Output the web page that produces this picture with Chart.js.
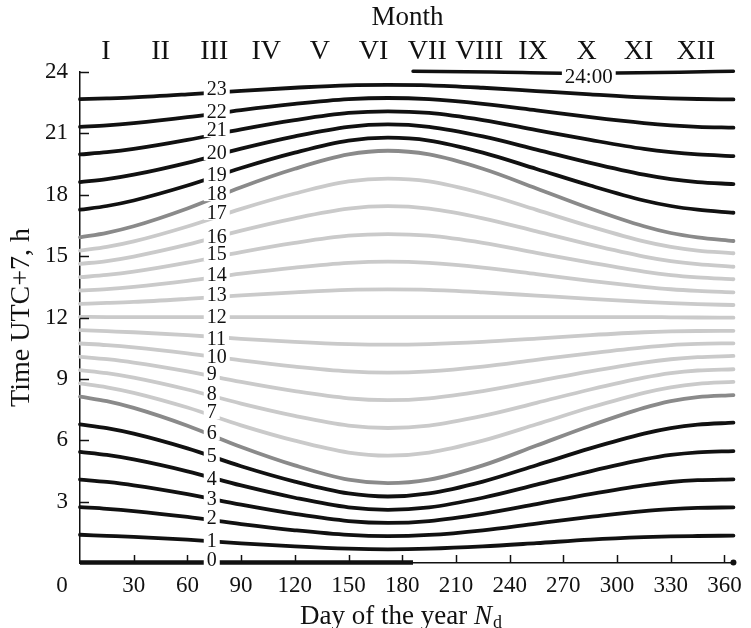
<!DOCTYPE html>
<html>
<head>
<meta charset="utf-8">
<script src="https://cdn.jsdelivr.net/npm/chart.js@4.4.1/dist/chart.umd.min.js"></script>
<style>
html,body{margin:0;padding:0;background:#fff;}
#wrap{width:751px;height:628px;}
</style>
</head>
<body>
<div id="wrap"><canvas id="c" width="751" height="628"></canvas></div>
<script>
// ---- data ----
const days = [0, 15, 30, 60, 90, 120, 150, 172, 195, 225, 255, 285, 315, 330, 345, 365];

const h1  = [1.38,1.33,1.28,1.14,0.96,0.81,0.70,0.67,0.70,0.81,0.97,1.14,1.26,1.30,1.32,1.34];
const h2  = [2.73,2.65,2.54,2.25,1.90,1.60,1.37,1.31,1.37,1.60,1.93,2.25,2.54,2.63,2.69,2.72];
const h3  = [4.08,3.96,3.80,3.37,2.85,2.40,2.05,1.96,2.05,2.40,2.88,3.37,3.80,3.96,4.05,4.09];
const h4  = [5.43,5.28,5.06,4.48,3.79,3.19,2.72,2.60,2.72,3.19,3.83,4.48,5.06,5.28,5.41,5.47];
const h5  = [6.78,6.59,6.32,5.60,4.73,3.98,3.40,3.25,3.40,3.98,4.78,5.60,6.32,6.59,6.76,6.86];
const h6  = [8.13,7.91,7.58,6.71,5.67,4.77,4.07,3.90,4.07,4.77,5.74,6.71,7.58,7.91,8.11,8.21];
const h7  = [8.78,8.59,8.32,7.60,6.73,5.98,5.40,5.25,5.40,5.98,6.78,7.60,8.32,8.59,8.76,8.85];
const h8  = [9.43,9.28,9.06,8.48,7.79,7.19,6.72,6.60,6.72,7.19,7.83,8.48,9.06,9.28,9.41,9.47];
const h9  = [10.08,9.96,9.80,9.37,8.85,8.40,8.05,7.96,8.05,8.40,8.88,9.37,9.80,9.96,10.06,10.12];
const h10 = [10.73,10.65,10.54,10.25,9.90,9.60,9.37,9.31,9.37,9.60,9.93,10.25,10.54,10.65,10.71,10.74];
const h11 = [11.38,11.33,11.28,11.14,10.96,10.81,10.70,10.67,10.70,10.81,10.97,11.14,11.28,11.32,11.34,11.35];
const h12 = [12.03,12.02,12.02,12.02,12.02,12.02,12.02,12.02,12.02,12.02,12.02,12.02,12.02,12.01,12.00,11.99];
const h13 = [12.67,12.71,12.76,12.91,13.08,13.23,13.35,13.37,13.35,13.23,13.07,12.91,12.76,12.70,12.65,12.61];
const h14 = [13.32,13.39,13.50,13.79,14.14,14.44,14.67,14.73,14.67,14.44,14.12,13.79,13.50,13.38,13.30,13.23];
const h15 = [13.97,14.08,14.24,14.68,15.20,15.65,16.00,16.08,16.00,15.65,15.16,14.68,14.24,14.07,13.96,13.87];
const h16 = [14.62,14.76,14.98,15.56,16.25,16.85,17.32,17.44,17.32,16.85,16.21,15.56,14.98,14.76,14.61,14.48];
const h17 = [15.27,15.45,15.72,16.45,17.31,18.06,18.65,18.79,18.65,18.06,17.26,16.45,15.72,15.45,15.27,15.14];
const h18 = [15.92,16.14,16.46,17.33,18.37,19.27,19.97,20.15,19.97,19.27,18.31,17.33,16.46,16.13,15.92,15.74];
const h19 = [17.27,17.45,17.72,18.45,19.31,20.06,20.65,20.79,20.65,20.06,19.26,18.45,17.72,17.45,17.27,17.12];
const h20 = [18.62,18.76,18.98,19.56,20.25,20.85,21.32,21.44,21.32,20.85,20.21,19.56,18.98,18.76,18.62,18.52];
const h21 = [19.97,20.08,20.24,20.68,21.20,21.65,22.00,22.08,22.00,21.65,21.16,20.68,20.24,20.08,19.97,19.89];
const h22 = [21.32,21.39,21.50,21.79,22.14,22.44,22.67,22.73,22.67,22.44,22.12,21.79,21.50,21.39,21.32,21.28];
const h23 = [22.67,22.71,22.76,22.91,23.08,23.23,23.35,23.37,23.35,23.23,23.07,22.91,22.76,22.71,22.68,22.66];

const zeroDays = [0, 90, 186];
const zeroValues = [0.02, 0.02, 0.02];
const zeroEndDay = [365];
const zeroEndValue = [0.02];
const midnightDays = [186, 230, 275, 300, 335, 365];
const midnightValues = [24.04, 24.00, 23.94, 23.95, 23.99, 24.04];

const hourLabels = ['0','1','2','3','4','5','6','7','8','9','10','11','12','13','14','15','16','17','18','19','20','21','22','23'];
const labelDay = 70.8;
const labelValues = [0.15,1.08,2.20,3.13,4.11,5.23,6.35,7.38,8.26,9.24,10.07,10.95,12.02,13.10,14.08,15.10,15.93,17.11,18.03,18.96,20.04,21.16,22.04,23.17];
const midnightLabel = '24:00';
const midnightLabelDay = 284.2;
const midnightLabelValue = 23.76;

const xTicks = [0,30,60,90,120,150,180,210,240,270,300,330,360];
const yTicks = [0,3,6,9,12,15,18,21,24];
const monthNames = ['I','II','III','IV','V','VI','VII','VIII','IX','X','XI','XII'];
const monthDays = [14.5,45,75,104,134,164,194,223,253,283,312,344];

// ---- styling ----
const FONT = "'Liberation Serif', 'Times New Roman', serif";
const BLACK = '#111111', DARK = '#8a8a8a', LIGHT = '#cacaca';
function lineColor(k){ if (k === 6 || k === 18) return DARK; if (k > 6 && k < 18) return LIGHT; return BLACK; }

const hourSeries = [h1,h2,h3,h4,h5,h6,h7,h8,h9,h10,h11,h12,h13,h14,h15,h16,h17,h18,h19,h20,h21,h22,h23];
const datasets = [];
hourSeries.forEach((vals, i) => {
  const k = i + 1;
  datasets.push({
    label: 'h' + k,
    data: days.map((d, j) => ({x: d, y: vals[j]})),
    borderColor: lineColor(k), borderWidth: 3.8, pointRadius: 0, borderCapStyle: 'round',
    cubicInterpolationMode: 'monotone', fill: false, clip: false
  });
});
datasets.push({
  label: 'h0', data: zeroDays.map((d, j) => ({x: d, y: zeroValues[j]})),
  borderColor: BLACK, borderWidth: 4.5, pointRadius: 0, fill: false, clip: false
});
datasets.push({
  label: 'h0end', data: zeroEndDay.map((d, j) => ({x: d, y: zeroEndValue[j]})),
  showLine: false, pointRadius: 3, pointBackgroundColor: BLACK, pointBorderWidth: 0, clip: false
});
datasets.push({
  label: 'h24', data: midnightDays.map((d, j) => ({x: d, y: midnightValues[j]})),
  borderColor: BLACK, borderWidth: 3.4, pointRadius: 0, borderCapStyle: 'round',
  cubicInterpolationMode: 'monotone', fill: false, clip: false
});

const overlay = {
  id: 'overlay',
  afterDatasetsDraw(chart) {
    const ctx = chart.ctx, x = chart.scales.x, y = chart.scales.y;
    ctx.save();
    // inward tick marks
    ctx.strokeStyle = BLACK; ctx.lineWidth = 1.5;
    yTicks.forEach(v => {
      if (v === 0) return;
      const py = Math.round(y.getPixelForValue(v)) + 0.5;
      ctx.beginPath(); ctx.moveTo(x.left, py); ctx.lineTo(x.left + 9, py); ctx.stroke();
    });
    xTicks.forEach(v => {
      if (v === 0) return;
      const px = Math.round(x.getPixelForValue(v)) + 0.5;
      ctx.beginPath(); ctx.moveTo(px, y.bottom); ctx.lineTo(px, y.bottom - 8); ctx.stroke();
    });
    // hour labels on the curves
    ctx.font = '20px ' + FONT; ctx.textAlign = 'left'; ctx.textBaseline = 'middle';
    hourLabels.forEach((t, k) => {
      const px = x.getPixelForValue(labelDay);
      const py = y.getPixelForValue(labelValues[k]);
      const w = ctx.measureText(t).width;
      ctx.fillStyle = '#fff'; ctx.fillRect(px - 3, py - 7, w + 6, 14);
      ctx.fillStyle = BLACK; ctx.fillText(t, px, py + 1);
    });
    // 24:00 label
    ctx.font = '21px ' + FONT; ctx.textAlign = 'center';
    {
      const px = x.getPixelForValue(midnightLabelDay);
      const py = y.getPixelForValue(midnightLabelValue);
      const w = ctx.measureText(midnightLabel).width;
      ctx.fillStyle = '#fff'; ctx.fillRect(px - w / 2 - 3, py - 8, w + 6, 15);
      ctx.fillStyle = BLACK; ctx.fillText(midnightLabel, px, py + 1);
    }
    // corner "0"
    ctx.font = '23px ' + FONT; ctx.textAlign = 'center'; ctx.textBaseline = 'middle';
    ctx.fillText('0', 62, 586);
    // x axis title with italic N and subscript d
    const t1 = 'Day of the year ', t2 = 'N', t3 = 'd';
    ctx.textBaseline = 'alphabetic'; ctx.textAlign = 'left';
    ctx.font = '27px ' + FONT; const w1 = ctx.measureText(t1).width;
    ctx.font = 'italic 27px ' + FONT; const w2 = ctx.measureText(t2).width;
    ctx.font = '18px ' + FONT; const w3 = ctx.measureText(t3).width;
    const total = w1 + w2 + w3 + 1;
    let sx = 401 - total / 2; const by = 624;
    ctx.font = '27px ' + FONT; ctx.fillText(t1, sx, by); sx += w1;
    ctx.font = 'italic 27px ' + FONT; ctx.fillText(t2, sx, by); sx += w2 + 1;
    ctx.font = '18px ' + FONT; ctx.fillText(t3, sx, by + 4);
    ctx.restore();
  }
};

new Chart(document.getElementById('c'), {
  type: 'line',
  data: { datasets },
  options: {
    responsive: false, animation: false, devicePixelRatio: 1,
    layout: { padding: { left: 0, right: 9, top: 0, bottom: 0 } },
    plugins: { legend: { display: false }, tooltip: { enabled: false } },
    scales: {
      x: {
        type: 'linear', position: 'bottom', min: 0, max: 366,
        afterBuildTicks: s => { s.ticks = xTicks.map(v => ({ value: v })); },
        ticks: { callback: v => (v === 0 ? '' : String(v)), font: { family: FONT, size: 23, lineHeight: 1.2 }, color: BLACK, padding: 9, maxRotation: 0, autoSkip: false },
        grid: { display: false, drawTicks: false },
        border: { display: true, color: BLACK, width: 1.5 },
        afterFit: s => { s.height = 65; }
      },
      x2: {
        type: 'linear', position: 'top', min: 0, max: 366,
        afterBuildTicks: s => { s.ticks = monthDays.map(v => ({ value: v })); },
        ticks: { callback: (v, i) => monthNames[i], font: { family: FONT, size: 28, lineHeight: 1.2 }, color: BLACK, padding: 4, maxRotation: 0, autoSkip: false },
        grid: { display: false, drawTicks: false },
        border: { display: false },
        title: { display: true, text: 'Month', color: BLACK, font: { family: FONT, size: 27, lineHeight: 1.2 }, padding: { top: 2, bottom: 0 } },
        afterFit: s => { s.height = 72; }
      },
      y: {
        type: 'linear', position: 'left', min: 0, max: 24,
        afterBuildTicks: s => { s.ticks = yTicks.map(v => ({ value: v })); },
        ticks: { callback: v => (v === 0 ? '' : String(v)), font: { family: FONT, size: 23, lineHeight: 1.2 }, color: BLACK, padding: 12 },
        grid: { display: false, drawTicks: false },
        border: { display: true, color: BLACK, width: 1.5 },
        title: { display: true, text: 'Time UTC+7, h', color: BLACK, font: { family: FONT, size: 28, lineHeight: 1.2 }, padding: { top: 5, bottom: 0 } },
        afterFit: s => { s.width = 80; }
      }
    }
  },
  plugins: [overlay]
});
</script>
</body>
</html>
